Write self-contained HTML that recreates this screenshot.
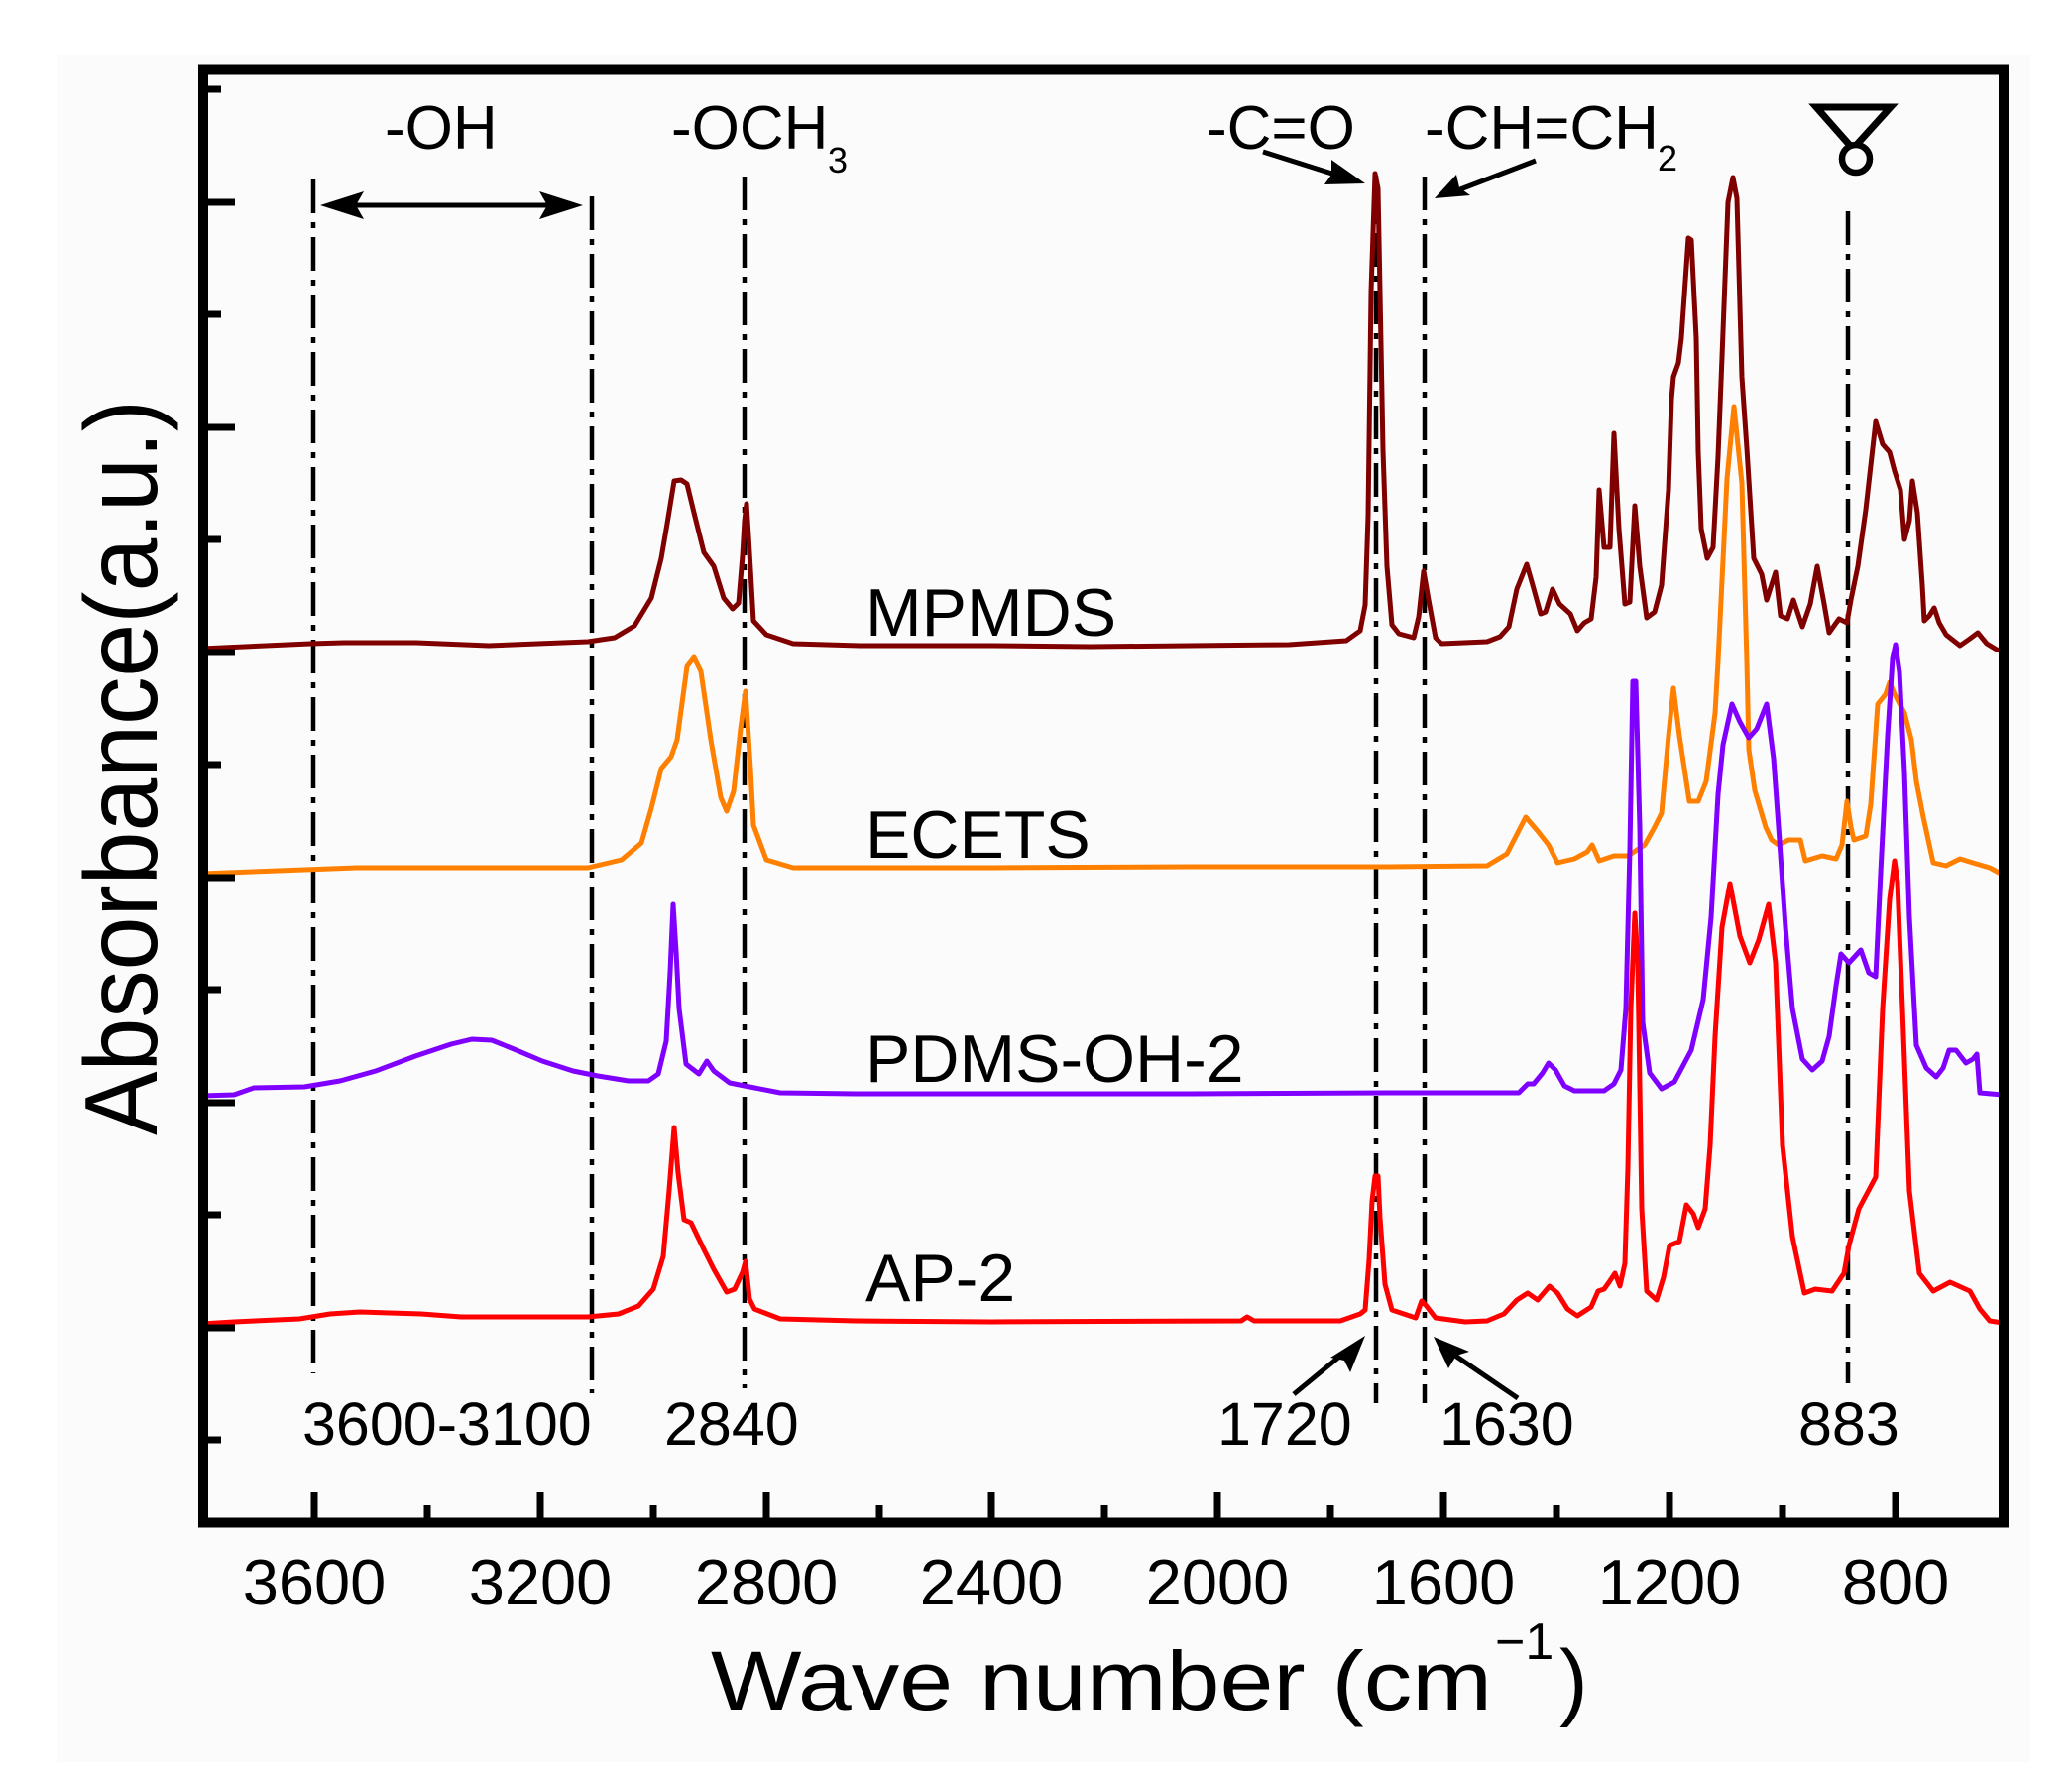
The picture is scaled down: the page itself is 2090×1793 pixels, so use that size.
<!DOCTYPE html>
<html>
<head>
<meta charset="utf-8">
<style>
html,body{margin:0;padding:0;background:#fff;}
svg{display:block;}
text{font-family:"Liberation Sans",Arial,sans-serif;fill:#000;}
</style>
</head>
<body>
<svg width="2090" height="1793" viewBox="0 0 2090 1793" xmlns="http://www.w3.org/2000/svg">
<rect x="0" y="0" width="2090" height="1793" fill="#ffffff"/>
<rect x="57" y="55" width="1991" height="1722" fill="#fbfbfb"/>

<!-- dash-dot guide lines -->
<g stroke="#000" stroke-width="4.5" stroke-dasharray="34 9 6 9" fill="none">
<line x1="316" y1="181" x2="316" y2="1385"/>
<line x1="597" y1="198" x2="597" y2="1405"/>
<line x1="751" y1="178" x2="751" y2="1400"/>
<line x1="1388" y1="177" x2="1388" y2="1415"/>
<line x1="1437" y1="178" x2="1437" y2="1415"/>
<line x1="1864" y1="213" x2="1864" y2="1395"/>
</g>

<!-- spectra -->
<g fill="none" stroke-width="5" stroke-linejoin="round" stroke-linecap="round">
<polyline stroke="#800000" points="203,654 313,649 347,648 420,648 493,651 593,647 620,643 640,631 657,603 667,563 673,528 680,485 687,484 693,488 700,517 710,557 720,571 730,603 739,614 745,608 749,560 751,525 753,508 755,540 757,574 760,626 773,640 800,649 867,651 1000,651 1100,652 1200,651 1300,650 1358,646 1372,636 1377,610 1380,520 1383,294 1387,175 1390,190 1392,294 1395,454 1399,571 1404,630 1411,639 1426,643 1431,622 1436,576 1441,605 1448,643 1454,649 1500,647 1513,642 1522,632 1530,594 1540,569 1546,590 1554,619 1559,617 1566,594 1573,609 1584,619 1591,636 1598,628 1605,624 1610,582 1613,494 1618,552 1624,552 1628,437 1633,533 1639,609 1644,607 1649,510 1654,571 1661,623 1669,617 1676,590 1683,494 1686,403 1688,380 1693,366 1696,341 1703,240 1706,242 1711,341 1713,456 1716,533 1722,563 1728,552 1733,460 1737,360 1743,204 1748,179 1752,200 1757,380 1762,452 1769,563 1777,579 1782,605 1791,577 1796,621 1803,624 1809,605 1818,632 1826,609 1833,571 1840,609 1845,638 1855,624 1863,628 1867,605 1874,571 1882,514 1892,425 1899,448 1906,456 1911,475 1917,494 1921,544 1926,525 1929,485 1934,517 1939,590 1941,626 1946,621 1951,613 1956,628 1963,640 1977,651 1987,644 1995,638 2004,649 2014,655 2020,657"/>
<polyline stroke="#ff8000" points="203,881 360,875 593,875 627,867 647,850 657,815 667,775 677,763 683,746 693,672 700,663 707,677 717,746 727,804 733,818 740,798 747,735 752,697 757,775 760,832 773,867 800,875 1000,875 1200,874 1400,874 1500,873 1520,861 1539,824 1551,838 1562,852 1571,870 1588,866 1601,859 1606,852 1613,868 1628,863 1642,863 1659,852 1669,834 1676,820 1683,742 1688,694 1694,742 1704,808 1713,808 1721,788 1730,719 1733,667 1742,483 1749,410 1757,487 1762,667 1764,756 1770,797 1781,834 1787,847 1794,852 1804,847 1816,847 1821,868 1838,863 1852,866 1858,852 1863,808 1867,834 1870,847 1882,843 1887,811 1894,710 1902,700 1906,688 1911,700 1921,719 1928,746 1933,788 1940,824 1950,870 1963,873 1977,866 1990,870 2007,875 2020,882"/>
<polyline stroke="#8000ff" points="203,1105 236,1104 256,1097 307,1096 343,1090 379,1080 419,1065 455,1053 476,1048 496,1049 516,1057 547,1070 578,1080 603,1085 634,1090 654,1090 664,1083 672,1050 676,980 679,912 682,960 685,1017 692,1073 705,1083 713,1070 720,1080 736,1092 751,1095 787,1102 863,1103 1000,1103 1200,1103 1400,1102 1500,1102 1532,1102 1541,1093 1547,1093 1556,1082 1562,1072 1569,1079 1578,1095 1588,1100 1618,1100 1628,1093 1635,1079 1640,1017 1644,857 1647,687 1650,687 1654,834 1657,1031 1664,1082 1676,1098 1689,1091 1706,1059 1718,1008 1726,925 1733,801 1738,751 1747,710 1755,728 1764,744 1772,735 1782,710 1789,765 1794,834 1801,935 1808,1017 1818,1068 1828,1079 1838,1070 1845,1045 1852,994 1857,962 1865,971 1877,958 1885,981 1892,985 1897,880 1904,742 1909,664 1912,650 1916,678 1921,779 1926,925 1933,1054 1943,1077 1953,1086 1960,1077 1966,1059 1973,1059 1983,1072 1990,1068 1994,1063 1997,1102 2020,1104"/>
<polyline stroke="#ff0000" points="203,1335 236,1333 302,1330 333,1325 363,1323 425,1325 465,1328 593,1328 624,1325 644,1317 659,1300 669,1267 675,1200 680,1137 684,1183 690,1230 697,1233 710,1260 720,1280 733,1303 741,1300 749,1283 752,1272 756,1310 761,1320 787,1330 863,1332 1000,1333 1252,1332 1258,1328 1265,1332 1352,1332 1372,1325 1377,1321 1381,1270 1384,1211 1387,1186 1390,1186 1392,1228 1397,1295 1404,1321 1428,1329 1434,1312 1438,1316 1448,1329 1478,1333 1500,1332 1517,1325 1530,1311 1541,1304 1551,1311 1563,1297 1571,1304 1581,1320 1591,1327 1605,1318 1612,1302 1618,1300 1623,1293 1629,1284 1634,1297 1639,1274 1642,1178 1645,1017 1649,921 1652,971 1656,1219 1661,1302 1671,1311 1678,1288 1684,1256 1694,1252 1701,1215 1708,1224 1713,1238 1720,1219 1725,1155 1730,1045 1737,935 1745,891 1755,944 1765,971 1774,948 1784,912 1791,971 1798,1155 1808,1247 1820,1304 1831,1300 1848,1302 1860,1284 1865,1256 1875,1219 1892,1187 1899,1017 1906,907 1911,868 1914,889 1919,1017 1926,1201 1936,1284 1950,1302 1967,1293 1987,1302 1997,1320 2007,1332 2020,1334"/>
</g>

<!-- frame -->
<rect x="205" y="70.5" width="1816" height="1465" fill="none" stroke="#000" stroke-width="10"/>

<!-- x ticks -->
<g stroke="#000" stroke-width="7">
<line x1="317" y1="1531" x2="317" y2="1505"/>
<line x1="545" y1="1531" x2="545" y2="1505"/>
<line x1="773" y1="1531" x2="773" y2="1505"/>
<line x1="1000" y1="1531" x2="1000" y2="1505"/>
<line x1="1228" y1="1531" x2="1228" y2="1505"/>
<line x1="1456" y1="1531" x2="1456" y2="1505"/>
<line x1="1684" y1="1531" x2="1684" y2="1505"/>
<line x1="1912" y1="1531" x2="1912" y2="1505"/>
<line x1="431" y1="1531" x2="431" y2="1518"/>
<line x1="659" y1="1531" x2="659" y2="1518"/>
<line x1="887" y1="1531" x2="887" y2="1518"/>
<line x1="1114" y1="1531" x2="1114" y2="1518"/>
<line x1="1342" y1="1531" x2="1342" y2="1518"/>
<line x1="1570" y1="1531" x2="1570" y2="1518"/>
<line x1="1798" y1="1531" x2="1798" y2="1518"/>
</g>
<!-- y ticks -->
<g stroke="#000" stroke-width="7">
<line x1="209" y1="204" x2="237" y2="204"/>
<line x1="209" y1="431" x2="237" y2="431"/>
<line x1="209" y1="658" x2="237" y2="658"/>
<line x1="209" y1="885" x2="237" y2="885"/>
<line x1="209" y1="1112" x2="237" y2="1112"/>
<line x1="209" y1="1339" x2="237" y2="1339"/>
<line x1="209" y1="90" x2="223" y2="90"/>
<line x1="209" y1="317" x2="223" y2="317"/>
<line x1="209" y1="544" x2="223" y2="544"/>
<line x1="209" y1="771" x2="223" y2="771"/>
<line x1="209" y1="998" x2="223" y2="998"/>
<line x1="209" y1="1225" x2="223" y2="1225"/>
<line x1="209" y1="1452" x2="223" y2="1452"/>
</g>

<!-- tick labels -->
<g font-size="65" text-anchor="middle">
<text x="317" y="1618">3600</text>
<text x="545" y="1618">3200</text>
<text x="773" y="1618">2800</text>
<text x="1000" y="1618">2400</text>
<text x="1228" y="1618">2000</text>
<text x="1456" y="1618">1600</text>
<text x="1684" y="1618">1200</text>
<text x="1912" y="1618">800</text>
</g>

<!-- axis titles -->
<text x="717" y="1724" font-size="84" textLength="788" lengthAdjust="spacingAndGlyphs">Wave number (cm</text>
<text x="1508" y="1673" font-size="52">−1</text>
<text x="1573" y="1724" font-size="86">)</text>
<text transform="translate(158,774) rotate(-90)" text-anchor="middle" font-size="104" textLength="742" lengthAdjust="spacingAndGlyphs">Absorbance(a.u.)</text>

<!-- series labels -->
<g font-size="68">
<text x="873" y="641">MPMDS</text>
<text x="873" y="865">ECETS</text>
<text x="873" y="1091">PDMS-OH-2</text>
<text x="873" y="1312">AP-2</text>
</g>

<!-- top annotations -->
<g font-size="62">
<text x="388" y="150">-OH</text>
<text x="677" y="150">-OCH</text>
<text x="1217" y="150">-C=O</text>
<text x="1437" y="150">-CH=CH</text>
</g>
<text x="835" y="174" font-size="36">3</text>
<text x="1672" y="172" font-size="36">2</text>

<!-- bottom annotations -->
<g font-size="61">
<text x="305" y="1457">3600-3100</text>
<text x="670" y="1457">2840</text>
<text x="1228" y="1457">1720</text>
<text x="1452" y="1457">1630</text>
<text x="1814" y="1457">883</text>
</g>

<!-- arrows -->
<g stroke="#000" stroke-width="5" fill="none">
<line x1="355" y1="207" x2="556" y2="207"/>
<line x1="1274" y1="153" x2="1350" y2="177"/>
<line x1="1549" y1="162" x2="1473" y2="191"/>
<line x1="1305" y1="1406" x2="1356" y2="1364"/>
<line x1="1531" y1="1410" x2="1465" y2="1365"/>
</g>
<g fill="#000">
<polygon points="323,207 367,193 359,207 367,221"/>
<polygon points="588,207 544,193 552,207 544,221"/>
<polygon points="1377,185 1336,186 1343,176 1343,161"/>
<polygon points="1447,200 1469,176 1472,189 1483,197"/>
<polygon points="1377,1347 1362,1384 1356,1372 1342,1369"/>
<polygon points="1446,1348 1482,1363 1469,1367 1461,1380"/>
</g>

<!-- epoxide symbol -->
<polygon points="1832,108 1907,108 1869,150" fill="none" stroke="#000" stroke-width="7" stroke-linejoin="miter"/>
<circle cx="1872" cy="160" r="14" fill="#fbfbfb" stroke="#000" stroke-width="6.5"/>
</svg>
</body>
</html>
